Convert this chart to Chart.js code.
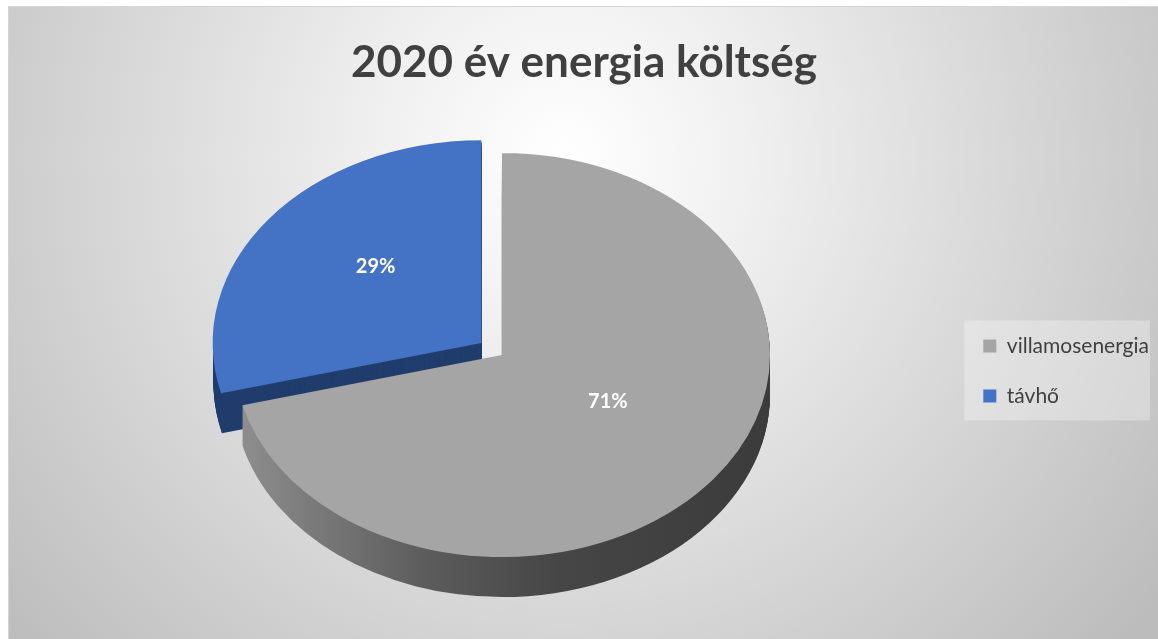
<!DOCTYPE html>
<html>
<head>
<meta charset="utf-8">
<script src="https://cdn.jsdelivr.net/npm/chart.js@4"></script>
<style>
    body { margin: 0; background: #ffffff; }
    #frame {
        position: absolute; left: 8px; top: 6px;
        width: 1150px; height: 633px;
        border-top: 1px solid #d4d4d4; border-left: 1px solid #d4d4d4;
    }
    canvas { display: block; }
</style>
</head>
<body>
<div id="frame"><canvas id="chart" width="1150" height="633"></canvas></div>
<script>
// data
const categories = ['villamosenergia', 'távhő'];
const shares = [71, 29];
const chartTitle = '2020 év energia költség';

// look of the fake 3D pie
const topColors = ['#a5a5a5', '#4472c4'];
const pieCenter = { x: 493, y: 348 };
const tilt = 0.754;
const depth = 40;

function placePie(ctx, el, dy) {
    ctx.translate(pieCenter.x, pieCenter.y + dy);
    ctx.scale(1, tilt);
    ctx.translate(-el.x, -el.y);
}

function sectorPath(ctx, el) {
    const mid = (el.startAngle + el.endAngle) / 2;
    const shift = (el.options.offset || 0) / 4;
    const x = el.x + Math.cos(mid) * shift;
    const y = el.y + Math.sin(mid) * shift;
    ctx.beginPath();
    ctx.moveTo(x, y);
    ctx.arc(x, y, el.outerRadius, el.startAngle, el.endAngle);
    ctx.closePath();
}

function sideFill(ctx, el, index) {
    if (index === 1) return '#213d6c';
    const ux = sx => sx + el.x - pieCenter.x;
    const g = ctx.createLinearGradient(ux(231), 0, ux(761), 0);
    g.addColorStop(0, '#8e8e8e');
    g.addColorStop(0.35, '#5c5c5c');
    g.addColorStop(0.6, '#464646');
    g.addColorStop(1, '#3b3b3b');
    return g;
}

const pie3d = {
    id: 'pie3d',
    beforeDraw(chart) {
        const ctx = chart.ctx;
        const w = chart.width, h = chart.height;
        const bg = ctx.createRadialGradient(555, 150, 0, 555, 150, 740);
        bg.addColorStop(0, '#ffffff');
        bg.addColorStop(0.25, '#f0f0f0');
        bg.addColorStop(1, '#bcbcbc');
        ctx.save();
        ctx.fillStyle = bg;
        ctx.fillRect(0, 0, w, h);
        // legend panel
        const boxes = chart.legend.legendHitBoxes;
        if (boxes && boxes.length) {
            const first = boxes[0], last = boxes[boxes.length - 1];
            const top = first.top - 15;
            const bottom = last.top + last.height + 14;
            ctx.fillStyle = 'rgba(255,255,255,0.3)';
            ctx.fillRect(first.left - 19, top, 1141 - (first.left - 19), bottom - top);
        }
        ctx.restore();
    },
    beforeDatasetsDraw(chart) {
        const ctx = chart.ctx;
        const arcs = chart.getDatasetMeta(0).data;
        // side walls: back slice first, then the front one
        [1, 0].forEach(i => {
            const el = arcs[i];
            for (let d = depth; d >= 1; d--) {
                ctx.save();
                placePie(ctx, el, d);
                sectorPath(ctx, el);
                ctx.fillStyle = sideFill(ctx, el, i);
                ctx.fill();
                ctx.restore();
            }
        });
        [1, 0].forEach(i => {
            ctx.save();
            placePie(ctx, arcs[i], 0);
            arcs[i].draw(ctx);
            ctx.restore();
        });

        // percentage labels
        const total = shares.reduce((a, b) => a + b, 0);
        ctx.save();
        ctx.fillStyle = '#ffffff';
        ctx.font = 'bold 20px Lato';
        ctx.textAlign = 'center';
        ctx.textBaseline = 'middle';
        arcs.forEach((el, i) => {
            const mid = (el.startAngle + el.endAngle) / 2;
            const r = el.outerRadius * 0.5 + (el.options.offset || 0) / 4;
            const x = pieCenter.x + Math.cos(mid) * r;
            const y = pieCenter.y + Math.sin(mid) * r * tilt - 15;
            ctx.fillText(Math.round(shares[i] / total * 100) + '%', x, y);
        });
        ctx.restore();
        return false;
    }
};

new Chart(document.getElementById('chart'), {
    type: 'pie',
    data: {
        labels: categories,
        datasets: [{
            data: shares,
            backgroundColor: topColors,
            borderWidth: 0,
            offset: [0, 104],
            radius: 268,
            clip: false
        }]
    },
    options: {
        responsive: false,
        animation: false,
        plugins: {
            title: {
                display: true,
                text: chartTitle,
                color: '#404040',
                font: { family: 'Lato', size: 44, weight: 'bold' },
                padding: { top: 29, bottom: 13 }
            },
            legend: {
                position: 'right',
                fullSize: false,
                labels: {
                    color: '#404040',
                    font: { family: 'Lato', size: 21 },
                    boxWidth: 13,
                    boxHeight: 13,
                    padding: 29
                }
            },
            tooltip: { enabled: false }
        }
    },
    plugins: [pie3d]
});
</script>
</body>
</html>
